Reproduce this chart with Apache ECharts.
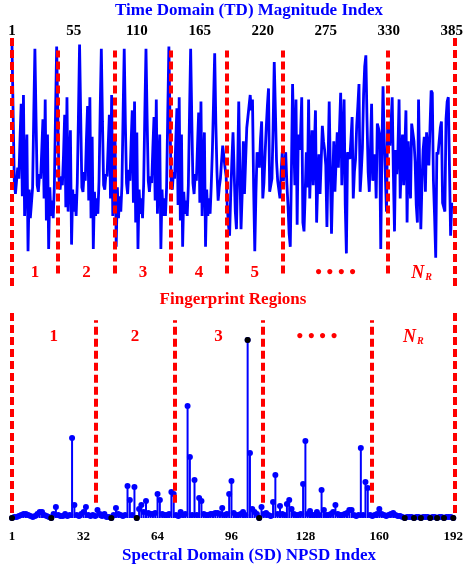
<!DOCTYPE html>
<html>
<head>
<meta charset="utf-8">
<script src="https://cdn.jsdelivr.net/npm/echarts@6/dist/echarts.min.js"></script>
<style>
  html, body { margin: 0; padding: 0; background: #fff; }
  #chart { width: 466px; height: 570px; }
</style>
</head>
<body>
<div id="chart"></div>
<script>
// tick labels
var tdTicks = [1, 55, 110, 165, 220, 275, 330, 385];
var sdTicks = [1, 32, 64, 96, 128, 160, 192];

// time domain magnitude (385 samples, arbitrary units 0..100)
var tdMagnitude = [
  98, 66, 36, 30, 30, 42, 37, 55, 71, 29, 75, 20, 40, 57, 4, 32, 19, 26, 33, 66,
  96, 64, 34, 31, 39, 37, 50, 64, 28, 73, 18, 57, 5, 33, 20, 27, 19, 34, 66,
  97, 66, 37, 32, 38, 34, 48, 66, 24, 74, 22, 42, 59, 7, 32, 22, 30, 20, 35, 65,
  98, 65, 33, 31, 40, 36, 55, 70, 27, 74, 19, 56, 5, 31, 20, 28, 21, 36, 68,
  96, 63, 34, 32, 39, 38, 52, 66, 28, 75, 20, 40, 56, 6, 33, 19, 29, 22, 34, 66,
  96, 62, 35, 30, 41, 36, 53, 68, 26, 72, 17, 58, 5, 32, 21, 28, 19, 35, 67,
  96, 64, 36, 31, 38, 35, 51, 65, 27, 73, 21, 41, 57, 5, 32, 20, 28, 20, 33, 66,
  97, 63, 34, 32, 40, 37, 54, 69, 25, 74, 18, 57, 6, 31, 21, 27, 20, 34, 66,
  96, 64, 35, 30, 39, 36, 52, 67, 26, 72, 20, 41, 58, 6, 32, 20, 28, 21, 34, 50, 72,
  94, 62, 40, 27, 33, 37, 45, 52, 47, 42, 38, 24, 16, 11, 30, 45, 58, 40, 22, 14,
  40, 72, 40, 14, 30, 54, 30, 45, 60, 65, 70, 75, 68, 73, 33, 4, 30, 49, 45, 42,
  55, 63, 28, 35, 48, 60, 70, 78, 31, 34, 37, 60, 90, 68, 45, 36, 32, 28, 40, 49,
  36, 42, 49, 35, 25, 12, 6, 40, 80, 55, 34, 73, 16, 57, 50, 57, 74, 17, 13, 30,
  49, 33, 73, 28, 45, 59, 34, 50, 68, 17, 35, 48, 30, 45, 61, 54, 50, 43, 15, 45,
  72, 40, 12, 35, 54, 31, 45, 58, 42, 60, 76, 34, 55, 73, 25, 3, 49, 47, 46, 55,
  65, 28, 40, 46, 61, 70, 80, 31, 40, 51, 75, 88, 93, 64, 40, 31, 50, 71, 36, 42,
  48, 28, 62, 60, 57, 5, 50, 79, 55, 39, 22, 61, 56, 52, 62, 74, 40, 13, 50, 39,
  50, 73, 28, 45, 57, 34, 50, 68, 17, 54, 40, 28, 62, 58, 54, 45, 25, 17, 73, 40,
  14, 35, 50, 56, 31, 58, 50, 43, 60, 77, 76, 36, 20, 1, 49, 48, 48, 60, 63, 26,
  24, 22, 64, 72, 74, 74, 11, 26
];

// spectral domain NPSD (192 bins)
var sdNpsd = [
  0, 1, 1, 2, 3, 4, 4, 3, 2, 1, 2, 4, 6, 6, 3, 2, 1, 0, 4, 11,
  3, 2, 2, 4, 2, 3, 80, 13, 3, 2, 4, 6, 11, 3, 2, 3, 2, 8, 4, 2,
  4, 1, 1, 0, 3, 10, 4, 3, 2, 3, 32, 18, 3, 31, 0, 9, 13, 6, 17, 5,
  4, 4, 5, 24, 18, 4, 3, 3, 4, 26, 24, 3, 2, 6, 3, 4, 112, 61, 3, 38,
  3, 20, 17, 4, 3, 3, 4, 4, 5, 5, 4, 10, 3, 4, 24, 37, 5, 3, 3, 4,
  6, 3, 178, 65, 9, 6, 4, 0, 11, 4, 5, 3, 2, 16, 43, 4, 12, 4, 3, 14,
  18, 9, 4, 3, 3, 4, 34, 77, 4, 7, 3, 3, 6, 3, 28, 8, 3, 3, 4, 6,
  13, 4, 3, 3, 4, 5, 8, 8, 3, 2, 3, 70, 3, 36, 30, 3, 2, 3, 4, 9,
  4, 3, 2, 3, 4, 5, 3, 2, 2, 1, 0, 1, 1, 1, 0, 1, 1, 0, 1, 1,
  1, 0, 1, 1, 0, 1, 1, 0, 1, 1, 1, 0
];
var sdBlackBins = [1, 18, 44, 55, 103, 108, 171, 175, 178, 182, 185, 188, 192];

// fingerprint region boundaries (index) and their labels
var tdRegionBounds = [1, 41, 90, 139, 187, 236, 327, 385];
var tdRegionLabels = ['1', '2', '3', '4', '5', 'dots', 'NR'];
var sdRegionBounds = [1, 37, 71, 109, 156, 192];
var sdRegionLabels = ['1', '2', '3', 'dots', 'NR'];

var FONT = '"Liberation Serif", "Times New Roman", serif';
var RED = '#ff0000';
var BLUE = '#0000ff';

var tdCats = tdMagnitude.map(function (v, i) { return String(i + 1); });
var sdCats = sdNpsd.map(function (v, i) { return String(i + 1); });
var sdBlack = sdNpsd.map(function (v, i) {
  return sdBlackBins.indexOf(i + 1) >= 0 ? v : '-';
});

// dashed boundaries, outer ones run longer
function boundLines(bounds) {
  return bounds.map(function (b, i) {
    var outer = i === 0 || i === bounds.length - 1;
    return [{ coord: [b, outer ? 0 : 0.05] }, { coord: [b, outer ? 1 : 0.95] }];
  });
}
function regionLabelData(bounds, labels, y) {
  return labels.map(function (t, i) {
    return { name: t, value: [(bounds[i] + bounds[i + 1]) / 2, y] };
  });
}
var regionLabel = {
  show: true,
  position: 'inside',
  color: RED,
  opacity: 1,
  fontFamily: FONT,
  fontWeight: 'bold',
  fontSize: 17,
  formatter: function (p) {
    if (p.name === 'dots') return '{d|\u2022 \u2022 \u2022 \u2022}';
    if (p.name === 'NR') return '{n|N}{r|R}';
    return p.name;
  },
  rich: {
    d: { color: RED, fontSize: 19, fontWeight: 'bold', fontFamily: FONT },
    n: { color: RED, fontSize: 18, fontWeight: 'bold', fontStyle: 'italic', fontFamily: FONT },
    r: { color: RED, fontSize: 10, fontWeight: 'bold', fontStyle: 'italic', fontFamily: FONT,
         verticalAlign: 'bottom', padding: [9, 0, 0, 1] }
  }
};
var markLineStyle = {
  silent: true,
  symbol: ['none', 'none'],
  label: { show: false },
  lineStyle: { color: RED, width: 4, type: [8, 4], opacity: 1 }
};

var chart = echarts.init(document.getElementById('chart'));
chart.setOption({
  animation: false,
  backgroundColor: '#fff',
  grid: [
    { left: 12, right: 11, top: 40, height: 220 },
    { left: 12, right: 11, top: 340, height: 178 },
    { left: 12, right: 11, top: 38, height: 248 },
    { left: 12, right: 11, top: 310, height: 203 }
  ],
  xAxis: [
    {
      gridIndex: 0, type: 'category', position: 'top', data: tdCats, boundaryGap: false,
      axisLine: { show: false }, axisTick: { show: false },
      axisLabel: {
        margin: 1, color: '#000', fontFamily: FONT, fontWeight: 'bold', fontSize: 15,
        interval: function (i) { return tdTicks.indexOf(i + 1) >= 0; }
      }
    },
    {
      gridIndex: 1, type: 'category', data: sdCats, boundaryGap: false,
      axisLine: { show: false }, axisTick: { show: false },
      axisLabel: {
        margin: 12, color: '#000', fontFamily: FONT, fontWeight: 'bold', fontSize: 13,
        interval: function (i) { return sdTicks.indexOf(i + 1) >= 0; }
      }
    },
    { gridIndex: 2, type: 'value', min: 1, max: 385, show: false },
    { gridIndex: 3, type: 'value', min: 1, max: 192, show: false }
  ],
  yAxis: [
    { gridIndex: 0, type: 'value', min: 0, max: 100, show: false },
    { gridIndex: 1, type: 'value', min: 0, max: 178, show: false },
    { gridIndex: 2, type: 'value', min: 0, max: 1, show: false },
    { gridIndex: 3, type: 'value', min: 0, max: 1, show: false }
  ],
  series: [
    {
      type: 'line', xAxisIndex: 0, yAxisIndex: 0, data: tdMagnitude,
      symbol: 'none', lineStyle: { color: BLUE, width: 2.8 }, z: 2
    },
    {
      type: 'bar', xAxisIndex: 1, yAxisIndex: 1, data: sdNpsd,
      barWidth: 2, itemStyle: { color: BLUE }, z: 2
    },
    {
      type: 'scatter', xAxisIndex: 1, yAxisIndex: 1, data: sdNpsd,
      symbolSize: 6, itemStyle: { color: BLUE, opacity: 1 }, z: 3
    },
    {
      type: 'scatter', xAxisIndex: 1, yAxisIndex: 1, data: sdBlack,
      symbolSize: 6, itemStyle: { color: '#000', opacity: 1 }, z: 4
    },
    {
      type: 'scatter', xAxisIndex: 2, yAxisIndex: 2, symbolSize: 0,
      itemStyle: { opacity: 1 },
      data: regionLabelData(tdRegionBounds, tdRegionLabels, 0.052),
      label: regionLabel, z: 5,
      markLine: Object.assign({ data: boundLines(tdRegionBounds) }, markLineStyle)
    },
    {
      type: 'scatter', xAxisIndex: 3, yAxisIndex: 3, symbolSize: 0,
      itemStyle: { opacity: 1 },
      data: regionLabelData(sdRegionBounds, sdRegionLabels, 0.867),
      label: regionLabel, z: 5,
      markLine: Object.assign({ data: boundLines(sdRegionBounds) }, markLineStyle)
    }
  ],
  graphic: [
    { type: 'text', x: 249, y: 11, style: { text: 'Time Domain (TD) Magnitude Index', fill: BLUE,
      font: 'bold 17px ' + FONT, align: 'center', verticalAlign: 'middle', textAlign: 'center', textVerticalAlign: 'middle' } },
    { type: 'text', x: 233, y: 300, style: { text: 'Fingerprint Regions', fill: RED,
      font: 'bold 17px ' + FONT, align: 'center', verticalAlign: 'middle', textAlign: 'center', textVerticalAlign: 'middle' } },
    { type: 'text', x: 249, y: 556, style: { text: 'Spectral Domain (SD) NPSD Index', fill: BLUE,
      font: 'bold 17px ' + FONT, align: 'center', verticalAlign: 'middle', textAlign: 'center', textVerticalAlign: 'middle' } }
  ]
});
</script>
</body>
</html>
